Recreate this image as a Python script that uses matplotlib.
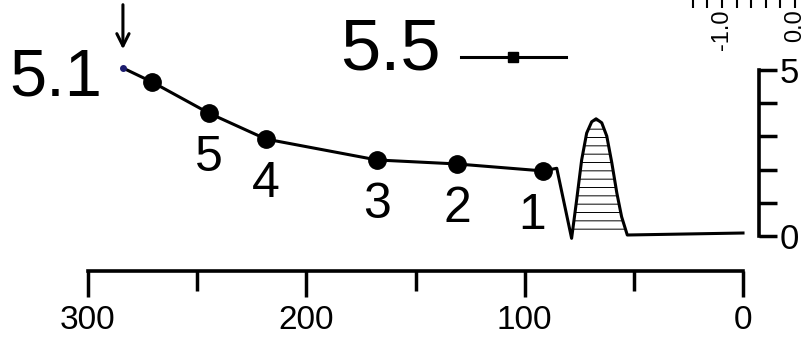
import matplotlib
matplotlib.use("Agg")
import matplotlib.pyplot as plt
from matplotlib.lines import Line2D

plt.rcParams['font.family'] = ['Liberation Sans', 'DejaVu Sans']
plt.rcParams['hatch.linewidth'] = 0.7

# ---- data ----
trace_x = [284, 270.7, 244.6, 218.5, 167.6, 131.0, 91.6, 85.3, 78.5, 76.2, 73.9, 71.6,
           69.3, 67.3, 64.7, 62.4, 60.1, 57.8, 55.6, 53.0, 0]
trace_y = [5.06, 4.64, 3.70, 2.92, 2.29, 2.17, 1.96, 2.04, -0.07, 1.08, 2.29, 3.10,
           3.44, 3.53, 3.41, 3.01, 2.21, 1.30, 0.58, 0.03, 0.09]
peak_x = [78.5, 76.2, 73.9, 71.6, 69.3, 67.3, 64.7, 62.4, 60.1, 57.8, 55.6, 53.0]
peak_y = [-0.07, 1.08, 2.29, 3.10, 3.44, 3.53, 3.41, 3.01, 2.21, 1.30, 0.58, 0.03]
dot_x = [270.7, 244.6, 218.5, 167.6, 131.0, 91.6]
dot_y = [4.64, 3.70, 2.92, 2.29, 2.17, 1.96]
dot_labels = ['', '5', '4', '3', '2', '1']
start_label = '5.1'
legend_label = '5.5'
x_ticks = [300, 200, 100, 0]
x_minor = [250, 150, 50]
y_ticks = [0, 1, 2, 3, 4, 5]
y_ticklabels = ['0', '', '', '', '', '5']
top_ticks = [-1.4, -1.2, -1.0, -0.8, -0.6, -0.4, -0.2, 0.0]
top_ticklabels = ['', '', '-1.0', '', '', '', '', '0.0']

W, H = 805, 341
fig = plt.figure(figsize=(W / 100, H / 100), dpi=100)

# main axes
ax = fig.add_axes([88 / W, 1 - 236 / H, 655 / W, 166 / H])
ax.set_xlim(300, 0)
ax.set_ylim(0, 5)
ax.patch.set_alpha(0)
for s in ['top', 'left']:
    ax.spines[s].set_visible(False)
ax.spines['bottom'].set_position(('outward', 25))
ax.spines['right'].set_position(('outward', 11.5))
for s in ['bottom', 'right']:
    ax.spines[s].set_linewidth(2.6)
    ax.spines[s].set_capstyle('projecting')

ax.set_xticks(x_ticks)
ax.set_xticklabels([str(t) for t in x_ticks])
ax.set_xticks(x_minor, minor=True)
ax.tick_params(axis='x', which='major', direction='out', length=19, width=2.5,
               labelsize=24, pad=6)
ax.tick_params(axis='x', which='minor', direction='out', length=14.5, width=2.5)
ax.yaxis.tick_right()
ax.set_yticks(y_ticks)
ax.set_yticklabels(y_ticklabels)
ax.tick_params(axis='y', which='major', direction='out', length=13, width=2.5,
               labelsize=25, pad=2)

# hatched peak
ax.fill_between(peak_x, peak_y, 0, facecolor='none', edgecolor='k', hatch='--',
                linewidth=0, clip_on=False)
# trace
ax.plot(trace_x, trace_y, color='k', lw=2.2, clip_on=False, solid_joinstyle='round')
ax.plot(dot_x, dot_y, 'o', color='k', ms=12.5, clip_on=False)
ax.plot(trace_x[:1], trace_y[:1], 'o', color='#1c1c6e', ms=4, clip_on=False)

label_dx = {'1': -8}
for x, y, lab in zip(dot_x, dot_y, dot_labels):
    if lab:
        ax.annotate(lab, (x, y), xytext=(label_dx.get(lab, 0), -42),
                    textcoords='offset points', ha='center', va='baseline',
                    fontsize=36, annotation_clip=False)

# start label + arrow
ax.annotate(start_label, (trace_x[0], trace_y[0]), xytext=(-15, -19.5),
            textcoords='offset points', ha='right', va='baseline', fontsize=48,
            annotation_clip=False)
ax.annotate('', xy=(trace_x[0], 5.54), xytext=(trace_x[0], 7.05),
            arrowprops=dict(arrowstyle='->', lw=2.2, color='k', mutation_scale=22),
            annotation_clip=False)

# legend-like entry
handle = Line2D([], [], color='k', lw=2.2, marker='s', markersize=7)
fig.legend(handles=[handle], labels=[legend_label], markerfirst=False, frameon=False,
           prop={'size': 52},
           handlelength=1.45, handletextpad=0.28, handleheight=-0.4,
           borderpad=0, borderaxespad=0, loc='lower left',
           bbox_to_anchor=(340 / W, 1 - 85 / H), bbox_transform=fig.transFigure)

# top-right partial axis
ax3 = fig.add_axes([680 / W, 1 - 8 / H, 125 / W, 0.05])
ax3.set_xlim(-1.575, 0.137)
ax3.patch.set_alpha(0)
for s in ax3.spines.values():
    s.set_visible(False)
ax3.set_yticks([])
ax3.set_xticks(top_ticks)
ax3.set_xticklabels(top_ticklabels, rotation=90)
ax3.tick_params(axis='x', direction='in', length=6, width=1.5, labelsize=17, pad=1)

fig.savefig('out.png', dpi=100)
